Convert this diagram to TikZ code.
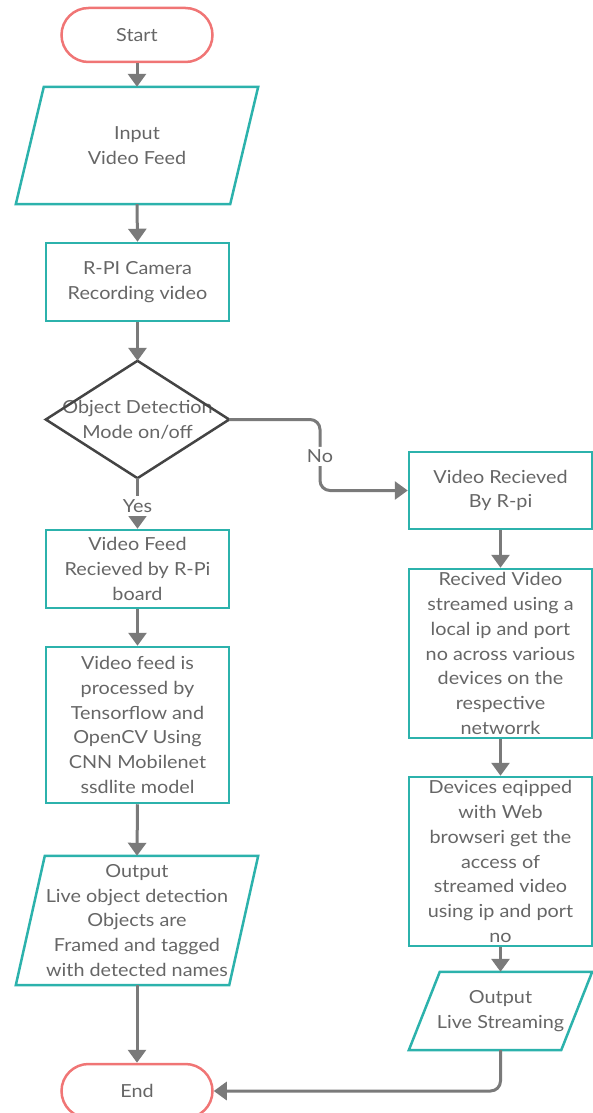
\documentclass[tikz,border=0pt]{standalone}
\usepackage{fontspec}
\setmainfont{Lato}[FakeStretch=1.1]
\usetikzlibrary{arrows.meta}
\definecolor{tealc}{HTML}{2CB2AC}
\definecolor{salmon}{HTML}{F07575}
\definecolor{txt}{HTML}{666666}
\definecolor{connc}{HTML}{7A7A7A}
\definecolor{dia}{HTML}{444444}
\begin{document}
\begin{tikzpicture}[x=1pt,y=-1pt,
  every node/.style={font=\fontsize{18}{24.7}\selectfont, text=txt, align=center},
  box/.style={draw=tealc, line width=2.5pt, rectangle, minimum width=183pt, inner sep=0pt},
  term/.style={draw=salmon, line width=2.5pt, rounded corners=27pt, minimum width=151pt, minimum height=54pt, inner sep=0pt},
  plainbox/.style={rectangle, inner sep=0pt},
  para/.style={draw=tealc, line width=2.5pt},
  conn/.style={draw=connc, line width=3pt, -{Triangle[width=18pt,length=13pt]}},
  lbl/.style={fill=white, inner sep=3pt}
]
\useasboundingbox (0,0) rectangle (593,1113);

% left column
\node[term] (start) at (137,35) {Start};
\node[plainbox, minimum width=242pt, minimum height=117pt] (input) at (137,145.5) {Input\\Video Feed};
\draw[para] ([xshift=28pt]input.north west) -- (input.north east) -- ([xshift=-28pt]input.south east) -- (input.south west) -- cycle;
\node[box, minimum height=78pt] (rpi) at (137.5,282) {R-PI Camera\\Recording video};
\node[plainbox, minimum width=183pt, minimum height=117pt] (diam) at (137.5,419.5) {Object Detection\\Mode on/off};
\draw[draw=dia, line width=2.5pt] (diam.north) -- (diam.east) -- (diam.south) -- (diam.west) -- cycle;
\node[box, minimum height=78pt] (recv) at (137.5,569) {Video Feed\\Recieved by R-Pi\\board};
\node[box, minimum height=156pt] (proc) at (137.5,725) {Video feed is\\processed by\\Tensorflow and\\OpenCV Using\\CNN Mobilenet\\ssdlite model};
\node[plainbox, minimum width=242pt, minimum height=129pt] (out1) at (137,920.5) {Output\\Live object detection\\Objects are\\Framed and tagged\\with detected names};
\draw[para] ([xshift=29pt]out1.north west) -- (out1.north east) -- ([xshift=-29pt]out1.south east) -- (out1.south west) -- cycle;
\node[term] (endn) at (137,1091) {End};

% right column
\node[box, minimum height=77pt] (vrec) at (500.5,490.5) {Video Recieved\\By R-pi};
\node[box, minimum height=169pt] (strm) at (500.5,653.5) {Recived Video\\streamed using a\\local ip and port\\no across various\\devices on the\\respective\\networrk};
\node[box, minimum height=169pt] (dev) at (500.5,861.5) {Devices eqipped\\with Web\\browseri get the\\access of\\streamed video\\using ip and port\\no};
\node[plainbox, minimum width=183pt, minimum height=78pt] (out2) at (500.5,1011) {Output\\Live Streaming};
\draw[para] ([xshift=31pt]out2.north west) -- (out2.north east) -- ([xshift=-31pt]out2.south east) -- (out2.south west) -- cycle;

% connectors
\draw[conn] (start.south) -- (input.north);
\draw[conn] (input.south) -- (rpi.north);
\draw[conn] (rpi.south) -- (diam.north);
\draw[conn] (diam.south) -- node[lbl, pos=0.55]{Yes} (recv.north);
\draw[conn] (recv.south) -- (proc.north);
\draw[conn] (proc.south) -- (out1.north);
\draw[conn] (out1.south) -- (endn.north);
\coordinate (nocorner) at (320,419.5);
\draw[conn, rounded corners=10pt] (diam.east) -- (nocorner) |- node[lbl, pos=0.26]{No} (vrec.west);
\draw[conn] (vrec.south) -- (strm.north);
\draw[conn] (strm.south) -- (dev.north);
\draw[conn] (dev.south) -- (out2.north);
\draw[conn, rounded corners=10pt] (out2.south) |- (endn.east);
\end{tikzpicture}
\end{document}
